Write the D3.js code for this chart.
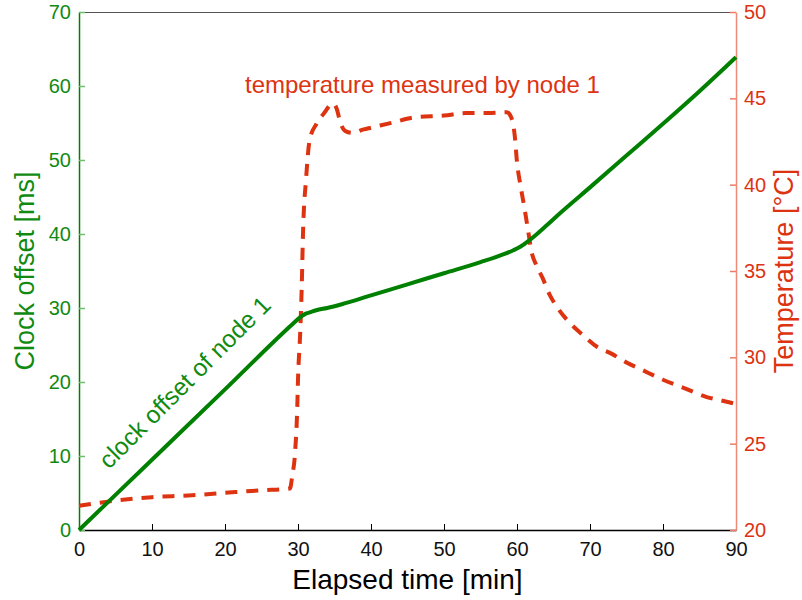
<!DOCTYPE html>
<html><head><meta charset="utf-8">
<script src="https://cdn.jsdelivr.net/npm/d3@7"></script>
<style>body{margin:0;background:#fff;} text{font-family:"Liberation Sans",Arial,Helvetica,sans-serif;}</style>
</head><body><svg id="c" width="802" height="600"></svg>
<script>
const xTicks = [0,10,20,30,40,50,60,70,80,90];
const yLeftTicks = [0,10,20,30,40,50,60,70];
const yRightTicks = [20,25,30,35,40,45,50];

const offsetTime = [0,10,20,29,30,30.5,31,31.6,32.5,34,36,40,45,50,55,58,59.5,60.5,61.5,62.5,64,66,70,75,80,85,90];
const offsetMs   = [0,9.5,19.0,27.6,28.5,28.9,29.2,29.4,29.7,30.0,30.5,31.7,33.2,34.7,36.2,37.2,37.8,38.3,39.0,39.8,41.1,42.9,46.3,50.6,54.9,59.3,63.9];

const tempTime = [0,5,10,15,20,25,28.9,29.2,29.6,29.9,30.0,30.3,30.5,30.7,31.1,31.6,32.5,33.5,34.8,35.3,35.8,36.5,37.5,39,40,43,46,50,53,56,58.6,59.2,59.7,60.0,60.5,61.0,61.5,62.0,62.7,63.5,64.5,65.5,67,69,71,73,75,77,80,83,86,88,90];
const tempC    = [21.4,21.7,21.9,22.0,22.15,22.3,22.4,23.1,24.5,27.1,28.7,31.4,33.9,37.4,40.3,42.6,43.5,44.1,44.7,44.4,43.6,43.1,43.0,43.2,43.3,43.6,43.9,44.0,44.15,44.15,44.2,43.9,42.8,41.3,39.9,38.7,37.4,36.1,35.3,34.6,33.6,32.9,32.1,31.3,30.6,30.2,29.7,29.3,28.7,28.2,27.7,27.5,27.3];

const L=79, R=736, T=12, B=530;
const svg = d3.select("#c");
const x = d3.scaleLinear().domain([0,90]).range([L,R]);
const yL = d3.scaleLinear().domain([0,70]).range([B,T]);
const yR = d3.scaleLinear().domain([20,50]).range([B,T]);

const GREEN="#008000", GTXT="#118a11", RED="#dd3311";

// top border
svg.append("line").attr("x1",L).attr("x2",R).attr("y1",T+0.5).attr("y2",T+0.5).attr("stroke","#555").attr("stroke-width",1);

// bottom axis
const gx = svg.append("g").attr("transform",`translate(0,${B})`)
  .call(d3.axisBottom(x).tickValues(xTicks).tickSizeInner(-6).tickSizeOuter(0).tickPadding(12).tickFormat(d3.format("d")));
gx.select(".domain").attr("stroke","#000").attr("stroke-width",1.5);
gx.selectAll(".tick line").attr("stroke","#000");
gx.selectAll(".tick text").attr("font-size",20).attr("fill","#111").attr("font-family","Liberation Sans, Arial");

// left axis
const gl = svg.append("g").attr("transform",`translate(${L},0)`)
  .call(d3.axisLeft(yL).tickValues(yLeftTicks).tickSizeInner(-6).tickSizeOuter(0).tickPadding(8).tickFormat(d3.format("d")));
gl.select(".domain").attr("stroke",GREEN).attr("stroke-width",1.5);
gl.selectAll(".tick line").attr("stroke","#6cbf6c").attr("stroke-width",1.5);
gl.selectAll(".tick text").attr("font-size",20).attr("fill",GTXT).attr("font-family","Liberation Sans, Arial");

// right axis
const gr = svg.append("g").attr("transform",`translate(${R},0)`)
  .call(d3.axisRight(yR).tickValues(yRightTicks).tickSizeInner(-6).tickSizeOuter(0).tickPadding(8).tickFormat(d3.format("d")));
gr.select(".domain").attr("stroke","#f08a78").attr("stroke-width",1.5);
gr.selectAll(".tick line").attr("stroke","#ee7a66").attr("stroke-width",1.5);
gr.selectAll(".tick text").attr("font-size",20).attr("fill",RED).attr("font-family","Liberation Sans, Arial");

// temperature line
const tempData = tempTime.map((t,i)=>[t,tempC[i]]);
svg.append("path").datum(tempData)
  .attr("d", d3.line().x(d=>x(d[0])).y(d=>yR(d[1])).curve(d3.curveMonotoneX))
  .attr("fill","none").attr("stroke",RED).attr("stroke-width",4).attr("stroke-dasharray","12,9");

// offset line
const offData = offsetTime.map((t,i)=>[t,offsetMs[i]]);
svg.append("path").datum(offData)
  .attr("d", d3.line().x(d=>x(d[0])).y(d=>yL(d[1])).curve(d3.curveMonotoneX))
  .attr("fill","none").attr("stroke",GREEN).attr("stroke-width",4);

// annotations
svg.append("text").attr("x",245).attr("y",93).attr("font-size",24).attr("fill",RED).text("temperature measured by node 1");
svg.append("text").attr("transform","translate(109,470) rotate(-45)").attr("font-size",24.5).attr("fill",GTXT).text("clock offset of node 1");

// axis titles
svg.append("text").attr("x",(L+R)/2).attr("y",589).attr("text-anchor","middle").attr("font-size",28).attr("fill","#000").text("Elapsed time [min]");
svg.append("text").attr("transform",`translate(34,${(T+B)/2}) rotate(-90)`).attr("text-anchor","middle").attr("font-size",27).attr("fill",GTXT).text("Clock offset [ms]");
svg.append("text").attr("transform",`translate(793,${(T+B)/2}) rotate(-90)`).attr("text-anchor","middle").attr("font-size",27).attr("fill",RED).text("Temperature [°C]");
</script></body></html>
